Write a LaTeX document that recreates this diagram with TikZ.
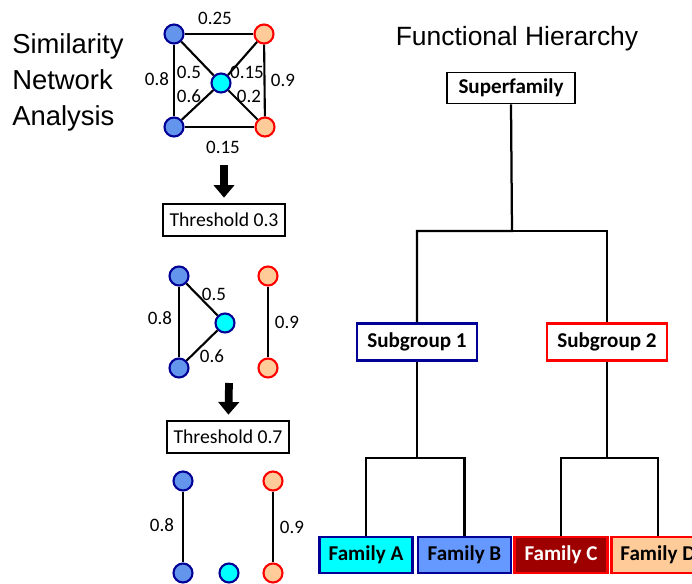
\documentclass[tikz,border=0pt]{standalone}
\usepackage{fontspec}
\setmainfont{Carlito}
\newfontfamily\headfont{Liberation Sans}
\usetikzlibrary{arrows.meta}

\definecolor{simblue}{RGB}{100,149,237}
\definecolor{simnavy}{RGB}{0,0,150}
\definecolor{simcyan}{RGB}{0,255,255}
\definecolor{simpeach}{RGB}{255,204,153}
\definecolor{simred}{RGB}{255,0,0}
\definecolor{simdark}{RGB}{158,0,0}
\definecolor{famblue}{RGB}{102,153,255}

\begin{document}
\begin{tikzpicture}[
x=0.025cm,
y=-0.025cm,
vertex/.style={
circle,
line width=1.5pt,
minimum size=0.475cm,
inner sep=0pt
},
bluev/.style={vertex, draw=simnavy, fill=simblue},
cyanv/.style={vertex, draw=simnavy, fill=simcyan},
peachv/.style={vertex, draw=simred, fill=simpeach},
link/.style={line width=1.5pt},
weight/.style={font=\fontsize{13.5}{16}\selectfont, inner sep=0pt},
cutoff/.style={
rectangle,
draw=black,
line width=1pt,
font=\fontsize{14}{16}\selectfont,
minimum width=3.05cm,
minimum height=0.8cm
},
bigarrow/.style={
line width=5.5pt,
-{Triangle[length=9pt, width=14.5pt]},
shorten >=4pt
},
level/.style={
rectangle,
line width=1.5pt,
font=\bfseries\fontsize{15}{17}\selectfont,
minimum height=0.925cm
},
family/.style={
level,
minimum width=2.325cm,
minimum height=0.9cm
},
tree/.style={line width=1.6pt}
]

\useasboundingbox (0,0) rectangle (692,584);

% Headings
\node[font=\headfont\fontsize{19.5}{25.6}\selectfont, align=left, anchor=west, inner sep=0pt]
(simtitle) at (12,82) {Similarity\\Network\\Analysis};
\node[font=\headfont\fontsize{18.8}{22}\selectfont, inner sep=0pt]
(hiertitle) at (517,39) {Functional Hierarchy};

% Full similarity network
\node[bluev] (n1tl) at (174,34) {};
\node[peachv] (n1tr) at (264,34) {};
\node[cyanv] (n1c) at (221,83) {};
\node[bluev] (n1bl) at (174,127) {};
\node[peachv] (n1br) at (265,127) {};

\draw[link] (n1tl) -- (n1tr);
\draw[link] (n1tl) -- (n1bl);
\draw[link] (n1tr) -- (n1br);
\draw[link] (n1bl) -- (n1br);
\draw[link] (n1tl) -- (n1c);
\draw[link] (n1c) -- (n1br);
\draw[link] (n1tr) -- (n1c);
\draw[link] (n1c) -- (n1bl);

\node[weight] (w1a) at (215,18) {0.25};
\node[weight] (w1b) at (157,79) {0.8};
\node[weight] (w1c) at (189,72) {0.5};
\node[weight] (w1d) at (189,96) {0.6};
\node[weight] (w1e) at (247,72) {0.15};
\node[weight] (w1f) at (249,96) {0.2};
\node[weight] (w1g) at (283,80) {0.9};
\node[weight] (w1h) at (223,147) {0.15};

% First cut
\coordinate (a1) at (224,165);
\node[cutoff] (thr1) at (224,220) {Threshold 0.3};
\draw[bigarrow] (a1) -- (thr1);

\node[bluev] (n2t) at (179,276) {};
\node[bluev] (n2b) at (179,368) {};
\node[cyanv] (n2c) at (225,323) {};
\node[peachv] (n2ot) at (268,276) {};
\node[peachv] (n2ob) at (268,368) {};

\draw[link] (n2t) -- (n2b);
\draw[link] (n2t) -- (n2c);
\draw[link] (n2c) -- (n2b);
\draw[link] (n2ot) -- (n2ob);

\node[weight] (w2a) at (214,294) {0.5};
\node[weight] (w2b) at (160,318) {0.8};
\node[weight] (w2c) at (212,356) {0.6};
\node[weight] (w2d) at (287,322) {0.9};

% Second cut
\coordinate (a2) at (229,383);
\node[cutoff] (thr2) at (228,437) {Threshold 0.7};
\draw[bigarrow] (a2) -- (thr2);

\node[bluev] (n3t) at (183,481) {};
\node[bluev] (n3b) at (183,573) {};
\node[cyanv] (n3c) at (229,573) {};
\node[peachv] (n3ot) at (273,481) {};
\node[peachv] (n3ob) at (273,573) {};

\draw[link] (n3t) -- (n3b);
\draw[link] (n3ot) -- (n3ob);

\node[weight] (w3a) at (162,525) {0.8};
\node[weight] (w3b) at (292,527) {0.9};

% Hierarchy
\node[level, draw=black, line width=1.3pt, minimum width=3.2cm, minimum height=0.775cm]
(sup) at (511,88) {Superfamily};
\node[level, draw=simnavy, minimum width=3cm] (sub1) at (417,342) {Subgroup 1};
\node[level, draw=simred, minimum width=3cm] (sub2) at (607,342) {Subgroup 2};

\node[family, draw=simnavy, fill=simcyan] (famA) at (366,555) {Family A};
\node[family, draw=simnavy, fill=famblue] (famB) at (464.5,555) {Family B};
\node[family, draw=simred, fill=simdark, text=white] (famC) at (561,555) {Family C};
\node[family, draw=simred, fill=simpeach] (famD) at (658,555) {Family D};

\coordinate (j0) at (512,231);
\coordinate (j1) at (417,458);
\coordinate (j2) at (607,458);

\draw[tree] (sup.south) -- (j0) -| (sub1.north);
\draw[tree] (j0) -| (sub2.north);
\draw[tree] (sub1.south) -- (j1) -| (famA.north);
\draw[tree] (j1) -| (famB.north);
\draw[tree] (sub2.south) -- (j2) -| (famC.north);
\draw[tree] (j2) -| (famD.north);

\end{tikzpicture}
\end{document}
